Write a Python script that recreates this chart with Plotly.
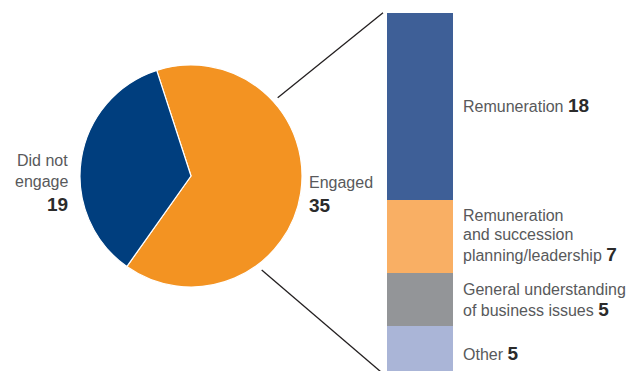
import plotly.graph_objects as go

W, H = 636, 371

# Engagement split (pie)
pie_labels = ["Engaged", "Did not engage"]
pie_values = [35, 19]
pie_colors = ["#F39322", "#003E7E"]

# Breakdown of the engaged group (stacked bar, bottom to top)
bar_labels = ["Other", "General understanding of business issues",
              "Remuneration and succession planning/leadership", "Remuneration"]
bar_values = [5, 5, 7, 18]
bar_colors = ["#AAB5D7", "#939598", "#F9AF64", "#3E5F97"]


def px(x):
    return x / W


def py(y):
    return 1 - y / H


fig = go.Figure()

# Pie: centre (191, 176), radius 111 px
cx, cy, r = 191, 176, 111
fig.add_trace(go.Pie(
    labels=pie_labels, values=pie_values, sort=False,
    direction="clockwise", rotation=-18,
    marker=dict(colors=pie_colors, line=dict(color="white", width=1.2)),
    textinfo="none", hoverinfo="label+value", showlegend=False,
    domain=dict(x=[px(cx - r), px(cx + r)], y=[py(cy + r), py(cy - r)]),
))

for lab, val, col in zip(bar_labels, bar_values, bar_colors):
    fig.add_trace(go.Bar(
        x=[0], y=[val], name=lab, width=1,
        marker=dict(color=col, line=dict(width=0)),
        showlegend=False, hoverinfo="name+y",
    ))

total = sum(bar_values)
top_px, unit = 12.7, 10.43
y_top = total + top_px / unit
y_bot = total - (H - top_px) / unit

fig.update_layout(
    width=W, height=H, margin=dict(l=0, r=0, t=0, b=0),
    paper_bgcolor="white", plot_bgcolor="white",
    barmode="stack", bargap=0,
    xaxis=dict(domain=[px(387), px(453)], range=[-0.5, 0.5], visible=False, fixedrange=True),
    yaxis=dict(domain=[0, 1], range=[y_bot, y_top], visible=False, fixedrange=True),
    font=dict(family="Liberation Sans, Arial, sans-serif"),
)

# Connector lines from the engaged slice to the bar
line_style = dict(color="#231F20", width=1.3)
fig.add_shape(type="line", xref="paper", yref="paper",
              x0=px(277.7), y0=py(97.7), x1=px(383), y1=py(12.7), line=line_style)
fig.add_shape(type="line", xref="paper", yref="paper",
              x0=px(261.7), y0=py(270), x1=px(387.5), y1=py(377.5), line=line_style)

LBL = "#58595B"
NUM = "#2B2B2B"
FS = 16
NFS = 19


def num(v):
    return f"<b><span style='color:{NUM};font-size:{NFS}px'>{v}</span></b>"


def add_text(text, x, y, anchor="left"):
    fig.add_annotation(text=text, x=px(x), y=py(y), xref="paper", yref="paper",
                       xanchor=anchor, yanchor="middle", showarrow=False,
                       font=dict(size=FS, color=LBL), align=anchor)


# Pie labels
add_text("Did not", 70, 160.8, "right")
add_text("engage", 70, 181.8, "right")
add_text(num(pie_values[1]), 70, 204.5, "right")
add_text("Engaged", 307, 182.2)
add_text(num(pie_values[0]), 307, 205)

# Bar labels
tx = 461
add_text(f"Remuneration {num(bar_values[3])}", tx, 105.5)
add_text("Remuneration", tx, 215)
add_text("and succession", tx, 234.5)
add_text(f"planning/leadership {num(bar_values[2])}", tx, 254.5)
add_text("General understanding", tx, 289.7)
add_text(f"of business issues {num(bar_values[1])}", tx, 309.3)
add_text(f"Other {num(bar_values[0])}", tx, 353)

fig.write_html("out.html")
